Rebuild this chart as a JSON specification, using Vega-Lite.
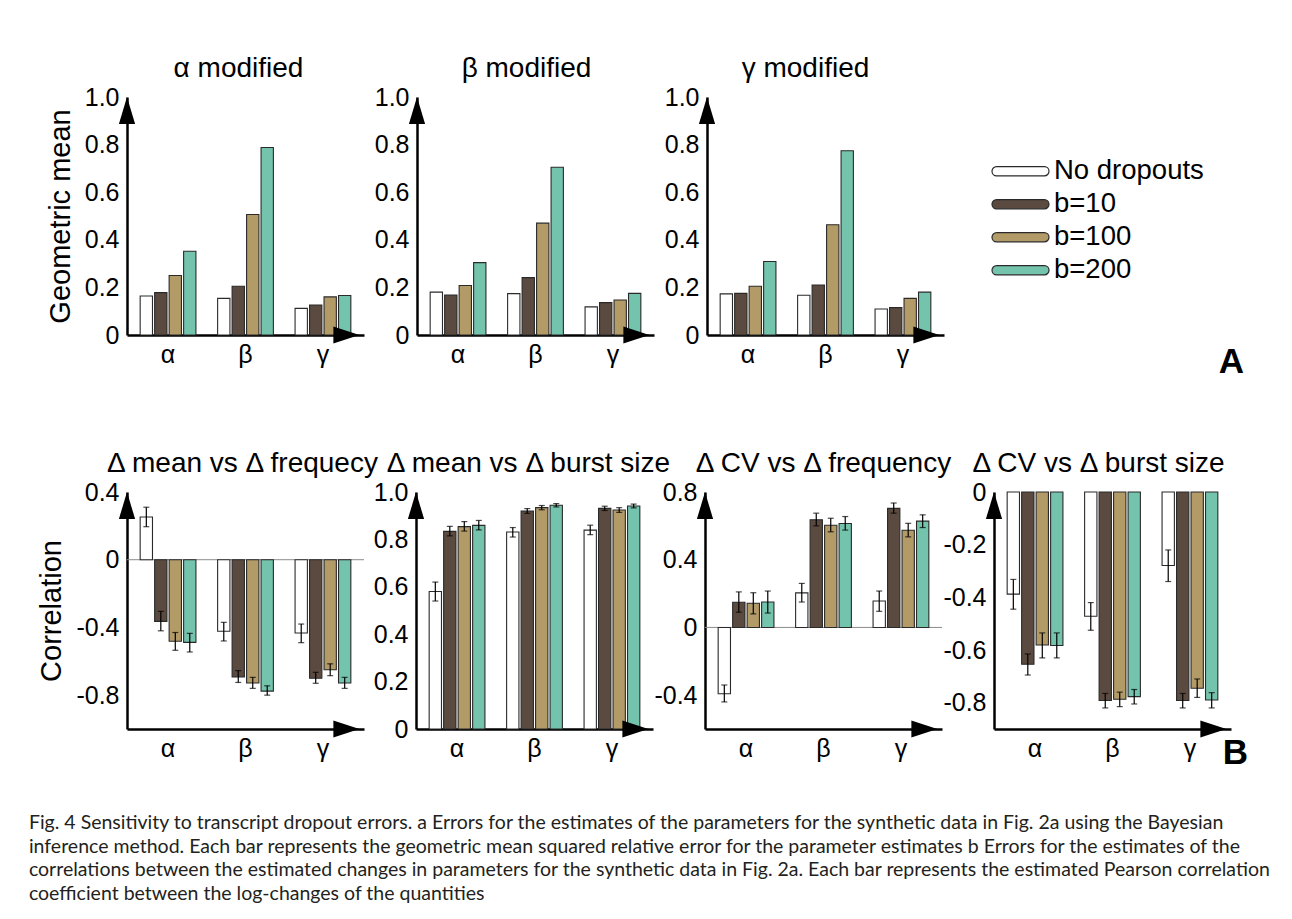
{
"$schema": "https://vega.github.io/schema/vega-lite/v6.json",
"background": "white",
"padding": {"left": 28, "top": 55, "right": 0, "bottom": 0},
"datasets": {
"panelA": [
{"chart":"α modified","param":"α","series":"No dropouts","value":0.164},
{"chart":"α modified","param":"α","series":"b=10","value":0.178},
{"chart":"α modified","param":"α","series":"b=100","value":0.25},
{"chart":"α modified","param":"α","series":"b=200","value":0.352},
{"chart":"α modified","param":"β","series":"No dropouts","value":0.154},
{"chart":"α modified","param":"β","series":"b=10","value":0.205},
{"chart":"α modified","param":"β","series":"b=100","value":0.506},
{"chart":"α modified","param":"β","series":"b=200","value":0.788},
{"chart":"α modified","param":"γ","series":"No dropouts","value":0.112},
{"chart":"α modified","param":"γ","series":"b=10","value":0.126},
{"chart":"α modified","param":"γ","series":"b=100","value":0.16},
{"chart":"α modified","param":"γ","series":"b=200","value":0.166},
{"chart":"β modified","param":"α","series":"No dropouts","value":0.18},
{"chart":"β modified","param":"α","series":"b=10","value":0.168},
{"chart":"β modified","param":"α","series":"b=100","value":0.208},
{"chart":"β modified","param":"α","series":"b=200","value":0.304},
{"chart":"β modified","param":"β","series":"No dropouts","value":0.174},
{"chart":"β modified","param":"β","series":"b=10","value":0.241},
{"chart":"β modified","param":"β","series":"b=100","value":0.47},
{"chart":"β modified","param":"β","series":"b=200","value":0.705},
{"chart":"β modified","param":"γ","series":"No dropouts","value":0.118},
{"chart":"β modified","param":"γ","series":"b=10","value":0.136},
{"chart":"β modified","param":"γ","series":"b=100","value":0.147},
{"chart":"β modified","param":"γ","series":"b=200","value":0.175},
{"chart":"γ modified","param":"α","series":"No dropouts","value":0.173},
{"chart":"γ modified","param":"α","series":"b=10","value":0.175},
{"chart":"γ modified","param":"α","series":"b=100","value":0.205},
{"chart":"γ modified","param":"α","series":"b=200","value":0.309},
{"chart":"γ modified","param":"β","series":"No dropouts","value":0.167},
{"chart":"γ modified","param":"β","series":"b=10","value":0.21},
{"chart":"γ modified","param":"β","series":"b=100","value":0.463},
{"chart":"γ modified","param":"β","series":"b=200","value":0.774},
{"chart":"γ modified","param":"γ","series":"No dropouts","value":0.109},
{"chart":"γ modified","param":"γ","series":"b=10","value":0.115},
{"chart":"γ modified","param":"γ","series":"b=100","value":0.154},
{"chart":"γ modified","param":"γ","series":"b=200","value":0.18}
],
"panelB": [
{"chart":"mf","param":"α","series":"No dropouts","value":0.252,"lo":0.195,"hi":0.31},
{"chart":"mf","param":"α","series":"b=10","value":-0.364,"lo":-0.42,"hi":-0.305},
{"chart":"mf","param":"α","series":"b=100","value":-0.482,"lo":-0.535,"hi":-0.43},
{"chart":"mf","param":"α","series":"b=200","value":-0.488,"lo":-0.545,"hi":-0.435},
{"chart":"mf","param":"β","series":"No dropouts","value":-0.423,"lo":-0.48,"hi":-0.37},
{"chart":"mf","param":"β","series":"b=10","value":-0.693,"lo":-0.725,"hi":-0.655},
{"chart":"mf","param":"β","series":"b=100","value":-0.728,"lo":-0.76,"hi":-0.695},
{"chart":"mf","param":"β","series":"b=200","value":-0.776,"lo":-0.8,"hi":-0.745},
{"chart":"mf","param":"γ","series":"No dropouts","value":-0.433,"lo":-0.49,"hi":-0.38},
{"chart":"mf","param":"γ","series":"b=10","value":-0.7,"lo":-0.73,"hi":-0.665},
{"chart":"mf","param":"γ","series":"b=100","value":-0.65,"lo":-0.685,"hi":-0.615},
{"chart":"mf","param":"γ","series":"b=200","value":-0.728,"lo":-0.76,"hi":-0.695},
{"chart":"mb","param":"α","series":"No dropouts","value":0.58,"lo":0.54,"hi":0.62},
{"chart":"mb","param":"α","series":"b=10","value":0.834,"lo":0.815,"hi":0.855},
{"chart":"mb","param":"α","series":"b=100","value":0.854,"lo":0.835,"hi":0.875},
{"chart":"mb","param":"α","series":"b=200","value":0.859,"lo":0.84,"hi":0.88},
{"chart":"mb","param":"β","series":"No dropouts","value":0.831,"lo":0.81,"hi":0.85},
{"chart":"mb","param":"β","series":"b=10","value":0.92,"lo":0.91,"hi":0.93},
{"chart":"mb","param":"β","series":"b=100","value":0.934,"lo":0.925,"hi":0.943},
{"chart":"mb","param":"β","series":"b=200","value":0.944,"lo":0.937,"hi":0.951},
{"chart":"mb","param":"γ","series":"No dropouts","value":0.839,"lo":0.82,"hi":0.86},
{"chart":"mb","param":"γ","series":"b=10","value":0.931,"lo":0.922,"hi":0.94},
{"chart":"mb","param":"γ","series":"b=100","value":0.924,"lo":0.914,"hi":0.934},
{"chart":"mb","param":"γ","series":"b=200","value":0.941,"lo":0.933,"hi":0.949},
{"chart":"cf","param":"α","series":"No dropouts","value":-0.392,"lo":-0.44,"hi":-0.34},
{"chart":"cf","param":"α","series":"b=10","value":0.149,"lo":0.09,"hi":0.21},
{"chart":"cf","param":"α","series":"b=100","value":0.143,"lo":0.08,"hi":0.205},
{"chart":"cf","param":"α","series":"b=200","value":0.15,"lo":0.085,"hi":0.215},
{"chart":"cf","param":"β","series":"No dropouts","value":0.204,"lo":0.15,"hi":0.26},
{"chart":"cf","param":"β","series":"b=10","value":0.636,"lo":0.6,"hi":0.675},
{"chart":"cf","param":"β","series":"b=100","value":0.604,"lo":0.565,"hi":0.645},
{"chart":"cf","param":"β","series":"b=200","value":0.614,"lo":0.575,"hi":0.655},
{"chart":"cf","param":"γ","series":"No dropouts","value":0.156,"lo":0.095,"hi":0.215},
{"chart":"cf","param":"γ","series":"b=10","value":0.703,"lo":0.675,"hi":0.735},
{"chart":"cf","param":"γ","series":"b=100","value":0.574,"lo":0.535,"hi":0.615},
{"chart":"cf","param":"γ","series":"b=200","value":0.628,"lo":0.59,"hi":0.665},
{"chart":"cb","param":"α","series":"No dropouts","value":-0.388,"lo":-0.445,"hi":-0.332},
{"chart":"cb","param":"α","series":"b=10","value":-0.654,"lo":-0.695,"hi":-0.615},
{"chart":"cb","param":"α","series":"b=100","value":-0.581,"lo":-0.63,"hi":-0.535},
{"chart":"cb","param":"α","series":"b=200","value":-0.583,"lo":-0.63,"hi":-0.535},
{"chart":"cb","param":"β","series":"No dropouts","value":-0.472,"lo":-0.525,"hi":-0.42},
{"chart":"cb","param":"β","series":"b=10","value":-0.792,"lo":-0.82,"hi":-0.765},
{"chart":"cb","param":"β","series":"b=100","value":-0.787,"lo":-0.815,"hi":-0.76},
{"chart":"cb","param":"β","series":"b=200","value":-0.777,"lo":-0.805,"hi":-0.75},
{"chart":"cb","param":"γ","series":"No dropouts","value":-0.279,"lo":-0.34,"hi":-0.22},
{"chart":"cb","param":"γ","series":"b=10","value":-0.792,"lo":-0.82,"hi":-0.765},
{"chart":"cb","param":"γ","series":"b=100","value":-0.745,"lo":-0.78,"hi":-0.71},
{"chart":"cb","param":"γ","series":"b=200","value":-0.79,"lo":-0.82,"hi":-0.762}
],
"one": [{"item": "axis arrow"}]
},
"title": {
"text": [
"Fig. 4 Sensitivity to transcript dropout errors. a Errors for the estimates of the parameters for the synthetic data in Fig. 2a using the Bayesian",
"inference method. Each bar represents the geometric mean squared relative error for the parameter estimates b Errors for the estimates of the",
"correlations between the estimated changes in parameters for the synthetic data in Fig. 2a. Each bar represents the estimated Pearson correlation",
"coefficient between the log-changes of the quantities"
],
"orient": "bottom", "anchor": "start", "frame": "bounds", "font": "Lato", "fontSize": 19.5, "fontWeight": "normal", "color": "#231f20", "lineHeight": 23.5, "offset": 43, "dx": -9
},
"spacing": 70,
"resolve": {"scale": {"color": "independent", "xOffset": "independent"}},
"vconcat": [
{
"hconcat": [
{
"width": 237, "height": 238,
"title": {"text": "α modified", "dx": -7},
"layer": [
{"data": {"name": "panelA"}, "transform": [{"filter": "datum.chart === 'α modified'"}],
 "mark": {"type": "bar", "stroke": "#2a2a2a", "strokeWidth": 1.1},
 "encoding": {
  "x": {"field": "param", "type": "nominal", "sort": ["α","β","γ"], "title": null, "scale": {"paddingInner": 0.28, "paddingOuter": 0.17}},
  "xOffset": {"field": "series", "type": "nominal", "sort": ["No dropouts","b=10","b=100","b=200"], "scale": {"paddingInner": 0.15, "paddingOuter": 0}},
  "y": {"field": "value", "type": "quantitative", "scale": {"domain": [0, 1]}, "title": "Geometric mean", "axis": {"values": [0,0.2,0.4,0.6,0.8,1], "labelExpr": "datum.value === 0 ? '0' : datum.value === 1 ? '1.0' : '' + datum.value"}},
  "color": {"field": "series", "type": "nominal", "scale": {"domain": ["No dropouts","b=10","b=100","b=200"], "range": ["#ffffff","#5b4a3f","#b39b68","#74c3ad"]}, "legend": null}
 }},
{"data": {"name": "one"}, "mark": {"type": "point", "shape": "M0,0L0.6,2L-0.6,2Z", "filled": true, "color": "black", "opacity": 1, "size": 729},
 "encoding": {"x": {"datum": 0, "type": "quantitative", "scale": {"domain": [0, 1]}, "axis": null}, "y": {"datum": 1, "type": "quantitative"}}},
{"data": {"name": "one"}, "mark": {"type": "point", "shape": "M0,0L-2,-0.65L-2,0.65Z", "filled": true, "color": "black", "opacity": 1, "size": 676},
 "encoding": {"x": {"datum": 1, "type": "quantitative", "scale": {"domain": [0, 1.02]}, "axis": null}, "y": {"datum": 0, "type": "quantitative"}}}
],
"resolve": {"scale": {"x": "independent"}}
},
{
"width": 237, "height": 238,
"title": {"text": "β modified", "dx": -9},
"layer": [
{"data": {"name": "panelA"}, "transform": [{"filter": "datum.chart === 'β modified'"}],
 "mark": {"type": "bar", "stroke": "#2a2a2a", "strokeWidth": 1.1},
 "encoding": {
  "x": {"field": "param", "type": "nominal", "sort": ["α","β","γ"], "title": null, "scale": {"paddingInner": 0.28, "paddingOuter": 0.17}},
  "xOffset": {"field": "series", "type": "nominal", "sort": ["No dropouts","b=10","b=100","b=200"], "scale": {"paddingInner": 0.15, "paddingOuter": 0}},
  "y": {"field": "value", "type": "quantitative", "scale": {"domain": [0, 1]}, "title": null, "axis": {"values": [0,0.2,0.4,0.6,0.8,1], "labelExpr": "datum.value === 0 ? '0' : datum.value === 1 ? '1.0' : '' + datum.value"}},
  "color": {"field": "series", "type": "nominal", "scale": {"domain": ["No dropouts","b=10","b=100","b=200"], "range": ["#ffffff","#5b4a3f","#b39b68","#74c3ad"]}, "legend": null}
 }},
{"data": {"name": "one"}, "mark": {"type": "point", "shape": "M0,0L0.6,2L-0.6,2Z", "filled": true, "color": "black", "opacity": 1, "size": 729},
 "encoding": {"x": {"datum": 0, "type": "quantitative", "scale": {"domain": [0, 1]}, "axis": null}, "y": {"datum": 1, "type": "quantitative"}}},
{"data": {"name": "one"}, "mark": {"type": "point", "shape": "M0,0L-2,-0.65L-2,0.65Z", "filled": true, "color": "black", "opacity": 1, "size": 676},
 "encoding": {"x": {"datum": 1, "type": "quantitative", "scale": {"domain": [0, 1.02]}, "axis": null}, "y": {"datum": 0, "type": "quantitative"}}}
],
"resolve": {"scale": {"x": "independent"}}
},
{
"width": 237, "height": 238,
"title": {"text": "γ modified", "dx": -20},
"layer": [
{"data": {"name": "panelA"}, "transform": [{"filter": "datum.chart === 'γ modified'"}],
 "mark": {"type": "bar", "stroke": "#2a2a2a", "strokeWidth": 1.1},
 "encoding": {
  "x": {"field": "param", "type": "nominal", "sort": ["α","β","γ"], "title": null, "scale": {"paddingInner": 0.28, "paddingOuter": 0.17}},
  "xOffset": {"field": "series", "type": "nominal", "sort": ["No dropouts","b=10","b=100","b=200"], "scale": {"paddingInner": 0.15, "paddingOuter": 0}},
  "y": {"field": "value", "type": "quantitative", "scale": {"domain": [0, 1]}, "title": null, "axis": {"values": [0,0.2,0.4,0.6,0.8,1], "labelExpr": "datum.value === 0 ? '0' : datum.value === 1 ? '1.0' : '' + datum.value"}},
  "color": {"field": "series", "type": "nominal", "scale": {"domain": ["No dropouts","b=10","b=100","b=200"], "range": ["#ffffff","#5b4a3f","#b39b68","#74c3ad"]},
   "legend": {"orient": "none", "legendX": 284, "legendY": 58, "title": null, "padding": 0,
     "symbolType": "M-0.84,-0.16L0.84,-0.16A0.16,0.16 0 0 1 0.84,0.16L-0.84,0.16A0.16,0.16 0 0 1 -0.84,-0.16Z",
     "symbolSize": 3249, "symbolStrokeWidth": 1.2, "symbolStrokeColor": "#2a2a2a", "symbolOpacity": 1,
     "labelFont": "Liberation Sans", "labelFontSize": 27.5, "labelColor": "black", "labelOffset": 4, "rowPadding": 0, "clipHeight": 32.5}}
 }},
{"data": {"name": "one"}, "mark": {"type": "point", "shape": "M0,0L0.6,2L-0.6,2Z", "filled": true, "color": "black", "opacity": 1, "size": 729},
 "encoding": {"x": {"datum": 0, "type": "quantitative", "scale": {"domain": [0, 1]}, "axis": null}, "y": {"datum": 1, "type": "quantitative"}}},
{"data": {"name": "one"}, "mark": {"type": "point", "shape": "M0,0L-2,-0.65L-2,0.65Z", "filled": true, "color": "black", "opacity": 1, "size": 676},
 "encoding": {"x": {"datum": 1, "type": "quantitative", "scale": {"domain": [0, 1.02]}, "axis": null}, "y": {"datum": 0, "type": "quantitative"}}}
],
"resolve": {"scale": {"x": "independent"}}
}
],
"spacing": 53,
"bounds": "flush",
"resolve": {"scale": {"color": "independent", "xOffset": "independent"}},
"title": {"text": "A", "orient": "bottom", "anchor": "end", "frame": "bounds", "fontSize": 35, "fontWeight": "bold", "offset": -22, "dx": 40}
},
{
"hconcat": [
{
"width": 237, "height": 237,
"title": {"text": "Δ mean vs Δ frequecy", "dx": -3},
"layer": [
{"data": {"name": "one"}, "mark": {"type": "rule", "color": "#8c8c8c", "strokeWidth": 1}, "encoding": {"y": {"datum": 0, "type": "quantitative"}}},
{"data": {"name": "panelB"}, "transform": [{"filter": "datum.chart === 'mf'"}],
 "encoding": {
  "x": {"field": "param", "type": "nominal", "sort": ["α","β","γ"], "title": null, "scale": {"paddingInner": 0.28, "paddingOuter": 0.17}},
  "xOffset": {"field": "series", "type": "nominal", "sort": ["No dropouts","b=10","b=100","b=200"], "scale": {"paddingInner": 0.15, "paddingOuter": 0}}
 },
 "layer": [
  {"mark": {"type": "bar", "stroke": "#2a2a2a", "strokeWidth": 1.1},
   "encoding": {
    "y": {"field": "value", "type": "quantitative", "scale": {"domain": [-1, 0.4]}, "title": "Correlation", "axis": {"values": [-0.8,-0.4,0,0.4], "labelExpr": "datum.value === 0 ? '0' : datum.value === 1 ? '1.0' : '' + datum.value"}},
    "color": {"field": "series", "type": "nominal", "scale": {"domain": ["No dropouts","b=10","b=100","b=200"], "range": ["#ffffff","#5b4a3f","#b39b68","#74c3ad"]}, "legend": null}
   }},
  {"mark": {"type": "rule", "color": "black", "strokeWidth": 1.2}, "encoding": {"y": {"field": "lo", "type": "quantitative"}, "y2": {"field": "hi"}}},
  {"mark": {"type": "tick", "color": "black", "thickness": 1.2, "size": 6}, "encoding": {"y": {"field": "lo", "type": "quantitative"}}},
  {"mark": {"type": "tick", "color": "black", "thickness": 1.2, "size": 6}, "encoding": {"y": {"field": "hi", "type": "quantitative"}}}
 ]},
{"data": {"name": "one"}, "mark": {"type": "point", "shape": "M0,0L0.6,2L-0.6,2Z", "filled": true, "color": "black", "opacity": 1, "size": 729},
 "encoding": {"x": {"datum": 0, "type": "quantitative", "scale": {"domain": [0, 1]}, "axis": null}, "y": {"datum": 0.4, "type": "quantitative"}}},
{"data": {"name": "one"}, "mark": {"type": "point", "shape": "M0,0L-2,-0.65L-2,0.65Z", "filled": true, "color": "black", "opacity": 1, "size": 676},
 "encoding": {"x": {"datum": 1, "type": "quantitative", "scale": {"domain": [0, 1.02]}, "axis": null}, "y": {"datum": -1, "type": "quantitative"}}}
],
"resolve": {"scale": {"x": "independent"}}
},
{
"width": 237, "height": 237,
"title": {"text": "Δ mean vs Δ burst size", "dx": -6},
"layer": [
{"data": {"name": "panelB"}, "transform": [{"filter": "datum.chart === 'mb'"}],
 "encoding": {
  "x": {"field": "param", "type": "nominal", "sort": ["α","β","γ"], "title": null, "scale": {"paddingInner": 0.28, "paddingOuter": 0.17}},
  "xOffset": {"field": "series", "type": "nominal", "sort": ["No dropouts","b=10","b=100","b=200"], "scale": {"paddingInner": 0.15, "paddingOuter": 0}}
 },
 "layer": [
  {"mark": {"type": "bar", "stroke": "#2a2a2a", "strokeWidth": 1.1},
   "encoding": {
    "y": {"field": "value", "type": "quantitative", "scale": {"domain": [0, 1]}, "title": null, "axis": {"values": [0,0.2,0.4,0.6,0.8,1], "labelExpr": "datum.value === 0 ? '0' : datum.value === 1 ? '1.0' : '' + datum.value"}},
    "color": {"field": "series", "type": "nominal", "scale": {"domain": ["No dropouts","b=10","b=100","b=200"], "range": ["#ffffff","#5b4a3f","#b39b68","#74c3ad"]}, "legend": null}
   }},
  {"mark": {"type": "rule", "color": "black", "strokeWidth": 1.2}, "encoding": {"y": {"field": "lo", "type": "quantitative"}, "y2": {"field": "hi"}}},
  {"mark": {"type": "tick", "color": "black", "thickness": 1.2, "size": 6}, "encoding": {"y": {"field": "lo", "type": "quantitative"}}},
  {"mark": {"type": "tick", "color": "black", "thickness": 1.2, "size": 6}, "encoding": {"y": {"field": "hi", "type": "quantitative"}}}
 ]},
{"data": {"name": "one"}, "mark": {"type": "point", "shape": "M0,0L0.6,2L-0.6,2Z", "filled": true, "color": "black", "opacity": 1, "size": 729},
 "encoding": {"x": {"datum": 0, "type": "quantitative", "scale": {"domain": [0, 1]}, "axis": null}, "y": {"datum": 1, "type": "quantitative"}}},
{"data": {"name": "one"}, "mark": {"type": "point", "shape": "M0,0L-2,-0.65L-2,0.65Z", "filled": true, "color": "black", "opacity": 1, "size": 676},
 "encoding": {"x": {"datum": 1, "type": "quantitative", "scale": {"domain": [0, 1.02]}, "axis": null}, "y": {"datum": 0, "type": "quantitative"}}}
],
"resolve": {"scale": {"x": "independent"}}
},
{
"width": 237, "height": 237,
"title": {"text": "Δ CV vs Δ frequency"},
"layer": [
{"data": {"name": "one"}, "mark": {"type": "rule", "color": "#8c8c8c", "strokeWidth": 1}, "encoding": {"y": {"datum": 0, "type": "quantitative"}}},
{"data": {"name": "panelB"}, "transform": [{"filter": "datum.chart === 'cf'"}],
 "encoding": {
  "x": {"field": "param", "type": "nominal", "sort": ["α","β","γ"], "title": null, "scale": {"paddingInner": 0.28, "paddingOuter": 0.17}},
  "xOffset": {"field": "series", "type": "nominal", "sort": ["No dropouts","b=10","b=100","b=200"], "scale": {"paddingInner": 0.15, "paddingOuter": 0}}
 },
 "layer": [
  {"mark": {"type": "bar", "stroke": "#2a2a2a", "strokeWidth": 1.1},
   "encoding": {
    "y": {"field": "value", "type": "quantitative", "scale": {"domain": [-0.6, 0.8]}, "title": null, "axis": {"values": [-0.4,0,0.4,0.8], "labelExpr": "datum.value === 0 ? '0' : datum.value === 1 ? '1.0' : '' + datum.value"}},
    "color": {"field": "series", "type": "nominal", "scale": {"domain": ["No dropouts","b=10","b=100","b=200"], "range": ["#ffffff","#5b4a3f","#b39b68","#74c3ad"]}, "legend": null}
   }},
  {"mark": {"type": "rule", "color": "black", "strokeWidth": 1.2}, "encoding": {"y": {"field": "lo", "type": "quantitative"}, "y2": {"field": "hi"}}},
  {"mark": {"type": "tick", "color": "black", "thickness": 1.2, "size": 6}, "encoding": {"y": {"field": "lo", "type": "quantitative"}}},
  {"mark": {"type": "tick", "color": "black", "thickness": 1.2, "size": 6}, "encoding": {"y": {"field": "hi", "type": "quantitative"}}}
 ]},
{"data": {"name": "one"}, "mark": {"type": "point", "shape": "M0,0L0.6,2L-0.6,2Z", "filled": true, "color": "black", "opacity": 1, "size": 729},
 "encoding": {"x": {"datum": 0, "type": "quantitative", "scale": {"domain": [0, 1]}, "axis": null}, "y": {"datum": 0.8, "type": "quantitative"}}},
{"data": {"name": "one"}, "mark": {"type": "point", "shape": "M0,0L-2,-0.65L-2,0.65Z", "filled": true, "color": "black", "opacity": 1, "size": 676},
 "encoding": {"x": {"datum": 1, "type": "quantitative", "scale": {"domain": [0, 1.02]}, "axis": null}, "y": {"datum": -0.6, "type": "quantitative"}}}
],
"resolve": {"scale": {"x": "independent"}}
},
{
"width": 237, "height": 237,
"title": {"text": "Δ CV vs Δ burst size", "dx": -14},
"layer": [
{"data": {"name": "panelB"}, "transform": [{"filter": "datum.chart === 'cb'"}],
 "encoding": {
  "x": {"field": "param", "type": "nominal", "sort": ["α","β","γ"], "title": null, "scale": {"paddingInner": 0.28, "paddingOuter": 0.17}},
  "xOffset": {"field": "series", "type": "nominal", "sort": ["No dropouts","b=10","b=100","b=200"], "scale": {"paddingInner": 0.15, "paddingOuter": 0}}
 },
 "layer": [
  {"mark": {"type": "bar", "stroke": "#2a2a2a", "strokeWidth": 1.1},
   "encoding": {
    "y": {"field": "value", "type": "quantitative", "scale": {"domain": [-0.9, 0]}, "title": null, "axis": {"values": [-0.8,-0.6,-0.4,-0.2,0], "labelExpr": "datum.value === 0 ? '0' : datum.value === 1 ? '1.0' : '' + datum.value"}},
    "color": {"field": "series", "type": "nominal", "scale": {"domain": ["No dropouts","b=10","b=100","b=200"], "range": ["#ffffff","#5b4a3f","#b39b68","#74c3ad"]}, "legend": null}
   }},
  {"mark": {"type": "rule", "color": "black", "strokeWidth": 1.2}, "encoding": {"y": {"field": "lo", "type": "quantitative"}, "y2": {"field": "hi"}}},
  {"mark": {"type": "tick", "color": "black", "thickness": 1.2, "size": 6}, "encoding": {"y": {"field": "lo", "type": "quantitative"}}},
  {"mark": {"type": "tick", "color": "black", "thickness": 1.2, "size": 6}, "encoding": {"y": {"field": "hi", "type": "quantitative"}}}
 ]},
{"data": {"name": "one"}, "mark": {"type": "point", "shape": "M0,0L0.6,2L-0.6,2Z", "filled": true, "color": "black", "opacity": 1, "size": 729},
 "encoding": {"x": {"datum": 0, "type": "quantitative", "scale": {"domain": [0, 1]}, "axis": null}, "y": {"datum": 0, "type": "quantitative"}}},
{"data": {"name": "one"}, "mark": {"type": "point", "shape": "M0,0L-2,-0.65L-2,0.65Z", "filled": true, "color": "black", "opacity": 1, "size": 676},
 "encoding": {"x": {"datum": 1, "type": "quantitative", "scale": {"domain": [0, 1.02]}, "axis": null}, "y": {"datum": -0.9, "type": "quantitative"}}}
],
"resolve": {"scale": {"x": "independent"}}
}
],
"spacing": 52,
"bounds": "flush",
"resolve": {"scale": {"color": "independent", "xOffset": "independent"}},
"title": {"text": "B", "orient": "bottom", "anchor": "end", "frame": "bounds", "fontSize": 35, "fontWeight": "bold", "offset": -25, "dx": 17}
}
],
"config": {
"font": "Liberation Sans",
"view": {"stroke": null},
"axis": {"labelFont": "Liberation Sans", "labelFontSize": 25, "labelColor": "black", "titleFont": "Liberation Sans", "titleFontSize": 29, "titleFontWeight": "normal", "titleColor": "black", "domainColor": "black", "domainWidth": 2.5, "grid": false, "ticks": false, "labelPadding": 8, "titlePadding": 9},
"axisX": {"labelPadding": 7, "labelAngle": 0},
"title": {"font": "Liberation Sans", "fontSize": 28, "fontWeight": "normal", "color": "black", "offset": 2}
}
}
